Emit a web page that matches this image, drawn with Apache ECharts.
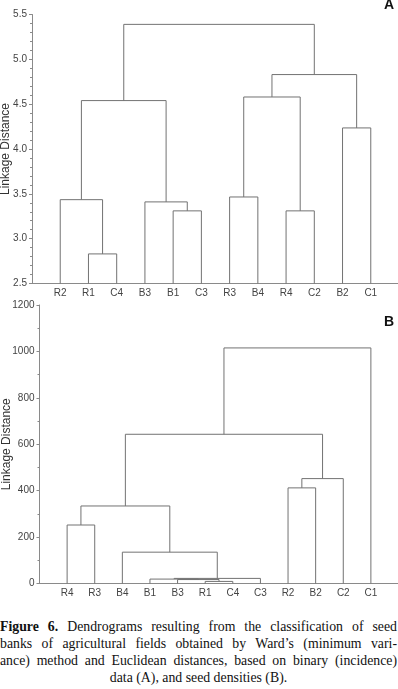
<!DOCTYPE html>
<html>
<head>
<meta charset="utf-8">
<script src="https://cdn.jsdelivr.net/npm/echarts@6/dist/echarts.min.js"></script>
<style>
  html, body { margin: 0; padding: 0; background: #fff; }
  #chart { position: absolute; left: 0; top: 0; width: 398px; height: 612px; }
  #caption {
    position: absolute; left: 0; top: 619px; width: 397px;
    font-family: "Liberation Serif", "Times New Roman", serif;
    font-size: 13.8px; line-height: 16.9px; color: #111;
  }
  #caption div { text-align: justify; text-align-last: justify; white-space: nowrap; }
  #caption div.last { text-align: center; text-align-last: center; }
</style>
</head>
<body>
<div id="chart"></div>
<div id="caption">
  <div><b>Figure 6.</b> Dendrograms resulting from the classification of seed</div>
  <div>banks of agricultural fields obtained by Ward’s (minimum vari-</div>
  <div>ance) method and Euclidean distances, based on binary (incidence)</div>
  <div class="last">data (A), and seed densities (B).</div>
</div>
<script>
///////////////////////////////////////////////////
// Used data
///////////////////////////////////////////////////

// Panel A: binary (incidence) data, leaf order left to right
var leavesA = ['R2', 'R1', 'C4', 'B3', 'B1', 'C3', 'R3', 'B4', 'R4', 'C2', 'B2', 'C1'];
// merges: [child a, child b, linkage distance]; 0-11 are leaves, 12+ are earlier merges
var mergesA = [
  [1, 2, 2.83],
  [0, 12, 3.435],
  [4, 5, 3.31],
  [3, 14, 3.41],
  [13, 15, 4.54],
  [6, 7, 3.465],
  [8, 9, 3.31],
  [17, 18, 4.58],
  [10, 11, 4.235],
  [19, 20, 4.83],
  [16, 21, 5.39],
];
var ticksA = { min: 2.5, max: 5.5, step: 0.5 };

// Panel B: seed densities
var leavesB = ['R4', 'R3', 'B4', 'B1', 'B3', 'R1', 'C4', 'C3', 'R2', 'B2', 'C2', 'C1'];
var mergesB = [
  [5, 6, 9],
  [4, 12, 17],
  [3, 13, 19],
  [14, 7, 22],
  [2, 15, 135],
  [0, 1, 252],
  [17, 16, 334],
  [8, 9, 412],
  [19, 10, 452],
  [18, 20, 643],
  [21, 11, 1015],
];
var ticksB = { min: 0, max: 1200, step: 200 };

///////////////////////////////////////////////////
// Helpers
///////////////////////////////////////////////////

// turn merge list into link rows [xa, ya, xb, yb, h]
function buildLinks(leaves, merges, base) {
  var pos = leaves.map(function (_, i) { return i + 1; });
  var hgt = leaves.map(function () { return base; });
  var rows = [];
  merges.forEach(function (m) {
    var a = m[0], b = m[1], h = m[2];
    rows.push([pos[a], hgt[a], pos[b], hgt[b], h]);
    pos.push((pos[a] + pos[b]) / 2);
    hgt.push(h);
  });
  return rows;
}

function renderLink(params, api) {
  var pa = api.coord([api.value(0), api.value(1)]);
  var ta = api.coord([api.value(0), api.value(4)]);
  var tb = api.coord([api.value(2), api.value(4)]);
  var pb = api.coord([api.value(2), api.value(3)]);
  return {
    type: 'polyline',
    shape: { points: [pa, ta, tb, pb] },
    style: { stroke: '#727272', fill: 'none', lineWidth: 1 },
  };
}

var labelFont = { fontFamily: 'Liberation Sans', fontSize: 10, color: '#444' };
var axisGray = { color: '#8a8a8a', width: 1 };

function xAxisFor(gridIndex, leaves) {
  return {
    type: 'value', gridIndex: gridIndex, min: 0, max: leaves.length + 1, interval: 1,
    axisLine: { show: true, onZero: false, lineStyle: axisGray },
    axisTick: { show: false },
    splitLine: { show: false },
    axisLabel: Object.assign({
      margin: 5,
      formatter: function (v) { return leaves[v - 1] || ''; },
    }, labelFont),
  };
}

function yAxisFor(gridIndex, t, minorSplit, digits, nameGap) {
  return {
    type: 'value', gridIndex: gridIndex, min: t.min, max: t.max, interval: t.step,
    name: 'Linkage Distance', nameLocation: 'middle', nameRotate: 90, nameGap: nameGap,
    nameMoveOverlap: false,
    nameTextStyle: { fontFamily: 'Liberation Sans', fontSize: 12, color: '#333' },
    axisLine: { show: true, lineStyle: axisGray },
    axisTick: { show: true, length: 3, lineStyle: axisGray },
    minorTick: { show: true, splitNumber: minorSplit, length: 2, lineStyle: axisGray },
    splitLine: { show: false },
    axisLabel: Object.assign({
      margin: 5,
      formatter: function (v) { return v.toFixed(digits); },
    }, labelFont),
  };
}

///////////////////////////////////////////////////
// Chart
///////////////////////////////////////////////////
var myChart = echarts.init(document.getElementById('chart'), null, { renderer: 'canvas' });

myChart.setOption({
  animation: false,
  grid: [
    { left: 32, top: 14.5, width: 367, height: 269, outerBoundsMode: 'none' },
    { left: 39.5, top: 305, width: 359, height: 278.5, outerBoundsMode: 'none' },
  ],
  xAxis: [xAxisFor(0, leavesA), xAxisFor(1, leavesB)],
  yAxis: [yAxisFor(0, ticksA, 5, 1, 20), yAxisFor(1, ticksB, 2, 0, 27)],
  graphic: [
    { type: 'text', left: 384, top: -2, style: { text: 'A', font: 'bold 14px "Liberation Sans"', fill: '#111' } },
    { type: 'text', left: 384, top: 315, style: { text: 'B', font: 'bold 14px "Liberation Sans"', fill: '#111' } },
  ],
  series: [
    {
      type: 'custom', xAxisIndex: 0, yAxisIndex: 0, silent: true,
      renderItem: renderLink, data: buildLinks(leavesA, mergesA, ticksA.min),
    },
    {
      type: 'custom', xAxisIndex: 1, yAxisIndex: 1, silent: true,
      renderItem: renderLink, data: buildLinks(leavesB, mergesB, ticksB.min),
    },
  ],
});
</script>
</body>
</html>
